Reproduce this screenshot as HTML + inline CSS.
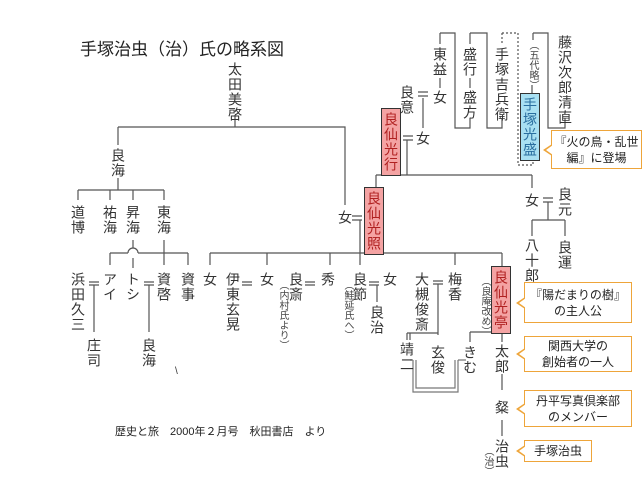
<!DOCTYPE html>
<html><head><meta charset="utf-8"><style>
body{margin:0;background:#fff;}
#c{position:relative;width:644px;height:477px;overflow:hidden;font-family:"Liberation Sans","Noto Sans CJK JP",sans-serif;color:#333;}
.v{position:absolute;writing-mode:vertical-rl;font-size:14px;line-height:14px;letter-spacing:1px;white-space:nowrap;}
.s{position:absolute;writing-mode:vertical-rl;font-size:10px;line-height:10px;white-space:nowrap;color:#444;}
.r{background:#f4a3a3;border:1px solid #333;color:#b02020;padding:3px 2px;}
.b{background:#a8e0f2;border:1px solid #333;color:#2a6fa0;padding:3px 2px;}
.cb{position:absolute;border:1.5px solid #eea53a;background:#fff;font-size:12px;line-height:16px;text-align:center;display:flex;align-items:center;justify-content:center;color:#222;}
.cb::before{content:"";position:absolute;left:-9px;top:50%;margin-top:-6px;border-style:solid;border-width:6px 9px 6px 0;border-color:transparent #eea53a transparent transparent;}
.cb::after{content:"";position:absolute;left:-6px;top:50%;margin-top:-5px;border-style:solid;border-width:5px 7px 5px 0;border-color:transparent #fff transparent transparent;}
svg{position:absolute;left:0;top:0;}
</style></head><body><div id="c">
<svg width="644" height="477" stroke="#555" stroke-width="1.2" fill="none">
<path d="M235 115V127M118 127H345V205M118 127V145M118 178V190M78 190H164M78 190V200M110 190V200M133 190V200M164 190V200"/>
<path d="M133 240V248M133 258V268M164 240V265M110 253H128M138 253H188M110 253V265M188 253V265"/>
<path d="M128 253a5 5 0 0 1 10 0"/>
<path d="M89 282H99M89 285H99M94 285V332M144 282H154M144 285H154M149 285V332"/>
<path d="M352 216H362M352 220H362M360 220V253M210 253H502M210 253V265M267 253V265M330 253V265M360 253V265M455 253V265M502 253V267"/>
<path d="M242 282H252M242 285H252M305 282H315M305 285H315M369 282H379M369 285H379M377 285V302"/>
<path d="M433 281H443M433 284H443M438 284V335M407 333H438M407 333V340M410 333V340M470 332H502M470 332V342M502 328V342"/>
<path d="M413 360V392H458V360M416 360V388H455V360M410 360H413M458 360H466" stroke="#777"/>
<path d="M502 374V390M502 420V436"/>
<path d="M423 98V128M418 92H428M418 96H428M403 136H413M403 140H413M407 140V175M376 175H532M376 175V187M532 175V188"/>
<path d="M440 33V44M440 33H455V128H470V118M440 78V88M470 33V44M470 33H487V128H502V118M470 78V88M533 33V40M533 33H548V128H565V118M532 85V93"/>
<path d="M502 33V44M502 33H518V165H533V156" stroke-dasharray="2 2"/>
<path d="M543 198H553M543 202H553M548 202V220M532 220H565M532 220V236M565 220V236"/>
</svg>
<div style="position:absolute;left:80px;top:35px;font-size:17px;color:#222;">手塚治虫（治）氏の略系図</div>
<div class="v" style="left:228px;top:62px">太田美啓</div>
<div class="v" style="left:111px;top:148px">良海</div>
<div class="v" style="left:71px;top:205px">道博</div>
<div class="v" style="left:103px;top:205px">祐海</div>
<div class="v" style="left:126px;top:205px">昇海</div>
<div class="v" style="left:157px;top:205px">東海</div>
<div class="v" style="left:71px;top:272px">浜田久三</div>
<div class="v" style="left:103px;top:272px">アイ</div>
<div class="v" style="left:126px;top:272px">トシ</div>
<div class="v" style="left:157px;top:272px">資啓</div>
<div class="v" style="left:181px;top:272px">資事</div>
<div class="v" style="left:87px;top:338px">庄司</div>
<div class="v" style="left:142px;top:338px">良海</div>
<div style="position:absolute;left:175px;top:366px;font-size:10px">\</div>
<div class="v" style="left:338px;top:210px">女</div>
<div class="v r" style="left:364px;top:187px">良仙光照</div>
<div class="v" style="left:203px;top:272px">女</div>
<div class="v" style="left:226px;top:272px">伊東玄晃</div>
<div class="v" style="left:260px;top:272px">女</div>
<div class="v" style="left:289px;top:272px">良斎</div>
<div class="s" style="left:277px;top:280px">（内村氏より）</div>
<div class="v" style="left:321px;top:272px">秀</div>
<div class="v" style="left:353px;top:272px">良節</div>
<div class="s" style="left:342px;top:280px">（鮭延氏へ）</div>
<div class="v" style="left:383px;top:272px">女</div>
<div class="v" style="left:370px;top:305px">良治</div>
<div class="v" style="left:415px;top:272px">大槻俊斎</div>
<div class="v" style="left:448px;top:272px">梅香</div>
<div class="s" style="left:479px;top:276px">（良庵改め）</div>
<div class="v r" style="left:491px;top:266px">良仙光亭</div>
<div class="v" style="left:400px;top:342px">靖二</div>
<div class="v" style="left:431px;top:345px">玄俊</div>
<div class="v" style="left:463px;top:345px">きむ</div>
<div class="v" style="left:495px;top:344px">太郎</div>
<div class="v" style="left:495px;top:400px">粲</div>
<div class="v" style="left:495px;top:439px">治虫</div>
<div class="s" style="left:482px;top:446px">（治）</div>
<div class="v" style="left:433px;top:47px">東益</div>
<div class="v" style="left:433px;top:90px">女</div>
<div class="v" style="left:400px;top:85px">良意</div>
<div class="v" style="left:416px;top:131px">女</div>
<div class="v r" style="left:381px;top:108px">良仙光行</div>
<div class="v" style="left:463px;top:47px">盛行</div>
<div class="v" style="left:463px;top:90px">盛方</div>
<div class="v" style="left:495px;top:47px">手塚吉兵衛</div>
<div class="s" style="left:527px;top:40px">（五代略）</div>
<div class="v b" style="left:520px;top:93px">手塚光盛</div>
<div class="v" style="left:558px;top:35px">藤沢次郎清直</div>
<div class="v" style="left:525px;top:193px">女</div>
<div class="v" style="left:558px;top:187px">良元</div>
<div class="v" style="left:525px;top:238px">八十郎</div>
<div class="v" style="left:558px;top:240px">良運</div>
<div class="cb" style="left:551px;top:130px;width:89px;height:37px">『火の鳥・乱世<br>編』に登場</div>
<div class="cb" style="left:524px;top:282px;width:106px;height:39px">『陽だまりの樹』<br>の主人公</div>
<div class="cb" style="left:524px;top:336px;width:106px;height:34px">関西大学の<br>創始者の一人</div>
<div class="cb" style="left:524px;top:390px;width:106px;height:35px">丹平写真倶楽部<br>のメンバー</div>
<div class="cb" style="left:524px;top:440px;width:66px;height:20px">手塚治虫</div>
<div style="position:absolute;left:115px;top:423px;font-size:11px;color:#222">歴史と旅　2000年２月号　秋田書店　より</div>
</div></body></html>
